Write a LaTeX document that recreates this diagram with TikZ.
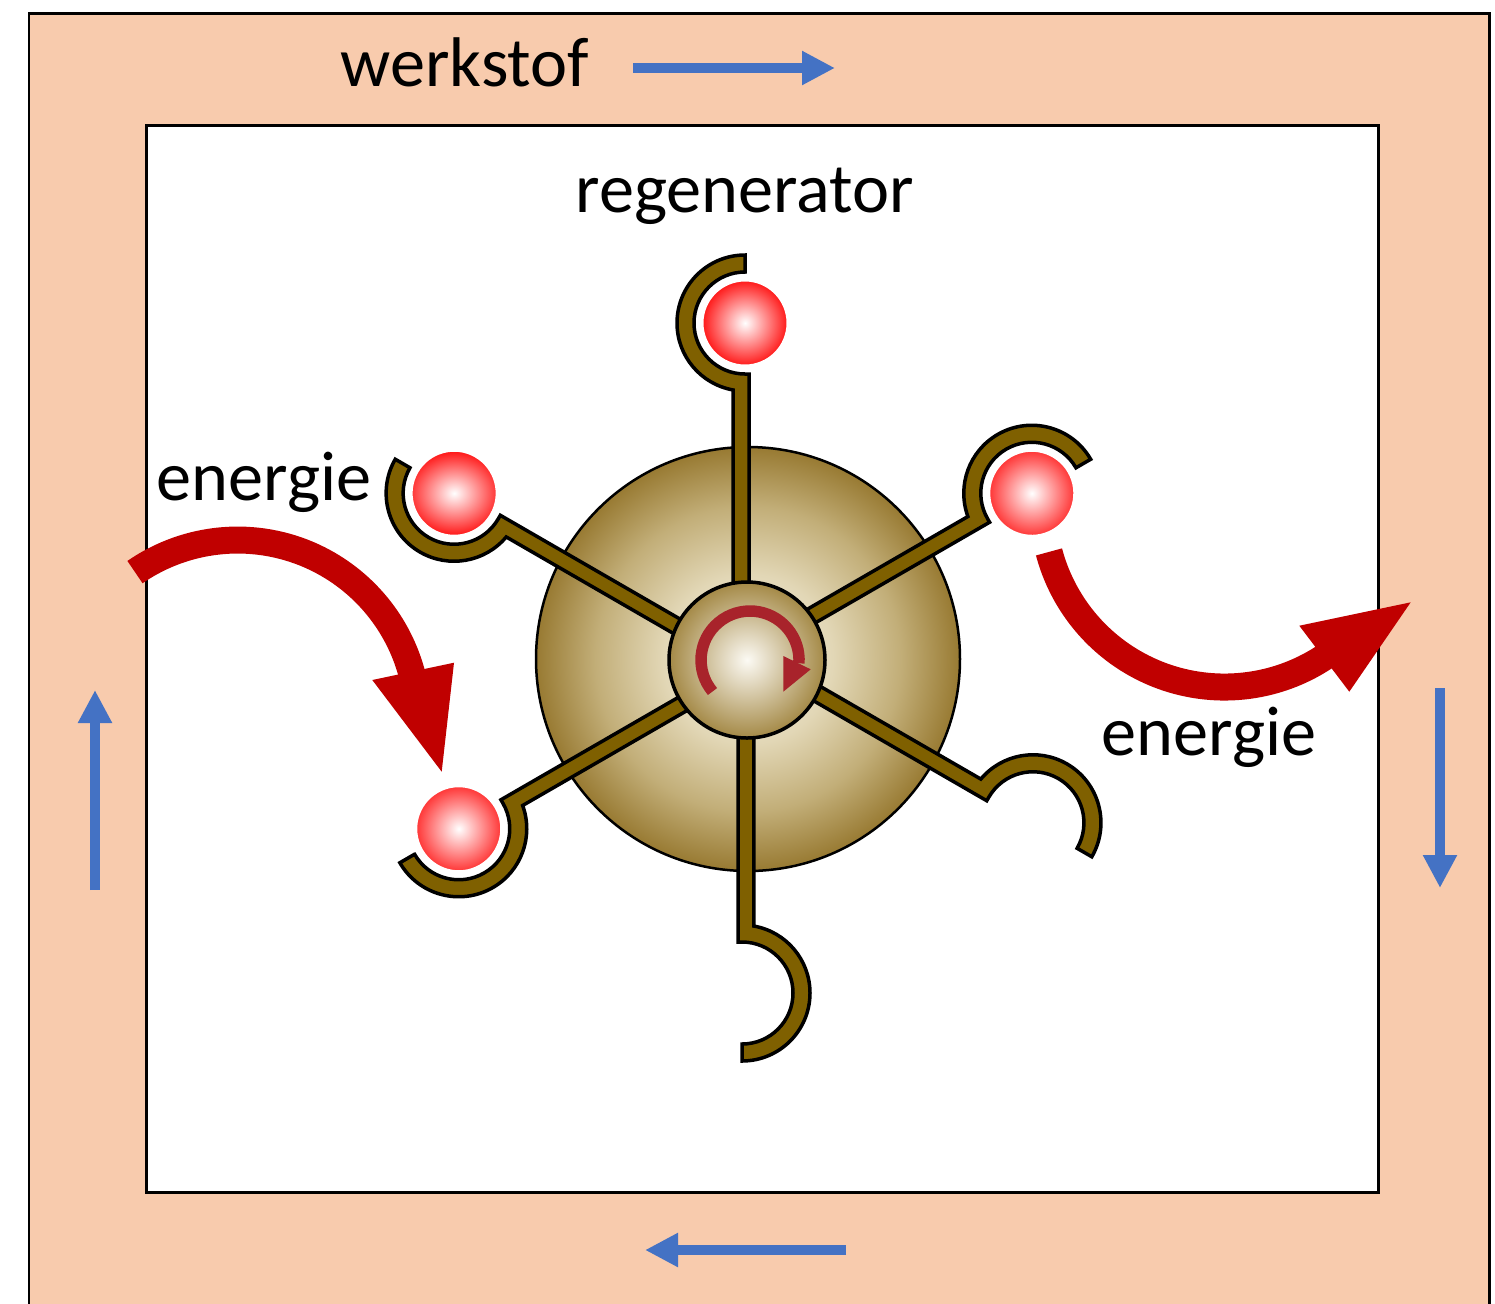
\documentclass[tikz,border=0pt]{standalone}
\usepackage{fontspec}
\setmainfont{Carlito}
\usetikzlibrary{arrows.meta}

\definecolor{peach}{RGB}{248,203,173}
\definecolor{flowblue}{RGB}{68,114,196}
\definecolor{heatred}{RGB}{192,0,0}
\definecolor{armgold}{RGB}{127,96,0}
\definecolor{spinred}{RGB}{168,35,43}
\definecolor{ballred}{RGB}{255,22,22}
\definecolor{discA}{RGB}{245,241,228}
\definecolor{discB}{RGB}{226,215,182}
\definecolor{discC}{RGB}{194,174,120}
\definecolor{discD}{RGB}{152,122,50}
\definecolor{hubA}{RGB}{252,250,244}
\definecolor{hubB}{RGB}{164,137,70}

\pgfdeclareradialshading{discshade}{\pgfpointorigin}{color(0bp)=(discA); color(10bp)=(discB); color(18bp)=(discC); color(25bp)=(discD); color(50bp)=(discD)}
\pgfdeclareradialshading{hubshade}{\pgfpointorigin}{color(0bp)=(hubA); color(25bp)=(hubB); color(50bp)=(hubB)}
\pgfdeclareradialshading{beadshade}{\pgfpointorigin}{color(0bp)=(white); color(25bp)=(ballred); color(50bp)=(ballred)}

\begin{document}
\begin{tikzpicture}[x=0.02cm, y=0.02cm,
  lbl/.style={font=\fontsize{40}{48}\selectfont, inner sep=0pt, anchor=base},
  flow/.style={draw=flowblue, line width=0.2cm, -{Triangle[width=0.64cm, length=0.66cm]}},
  heat/.style={draw=heatred, line width=0.54cm},
  heathead/.style={fill=heatred},
  armstyle/.style={fill=armgold, draw=black, line width=0.07cm, line join=miter},
  bead/.style={shading=beadshade, draw=white, line width=0.06cm}]

\useasboundingbox (0,0) rectangle (1495,-1303);
\clip (0,0) rectangle (1495,-1303);
\fill[white] (0,0) rectangle (1495,-1303);

% working-fluid channel and inner chamber
\draw[fill=peach, line width=0.06cm] (29,-13) rectangle (1489,-1340);
\draw[fill=white, line width=0.06cm] (146,-125) rectangle (1378,-1192);

% flow direction of the working fluid
\coordinate (topA) at (633,-68);   \coordinate (topB) at (835,-68);
\coordinate (rgtA) at (1440,-688); \coordinate (rgtB) at (1440,-888);
\coordinate (botA) at (846,-1250); \coordinate (botB) at (645,-1250);
\coordinate (lftA) at (95,-890);   \coordinate (lftB) at (95,-690);
\draw[flow] (topA) -- (topB);
\draw[flow] (rgtA) -- (rgtB);
\draw[flow] (botA) -- (botB);
\draw[flow] (lftA) -- (lftB);

% labels
\node[lbl] (werk) at (465,-86) {werkstof};
\node[lbl] (regen) at (745,-212) {regenerator};
\node[lbl] (eIn) at (264,-500) {energie};
\node[lbl] (eOut) at (1209,-755) {energie};

% rotor disc
\shadedraw[shading=discshade, line width=0.05cm] (748,-659) circle[radius=212];

% six arms with cups (angle / length / sideways offset / bead)
\foreach \rot/\len/\dx/\hasbead in {0/337/0/1, 60/337/0/1, 120/334/0/1,
                                    180/333/7/0, 240/329/0/0, 300/330/0/1}{
  \begin{scope}[shift={(747,-660)}, rotate=\rot, xshift=\dx*0.02cm]
    \path[armstyle] (-2,{\len+51}) -- (-2,{\len+68})
      arc[start angle=90, end angle=260, radius=68]
      -- (-13.8,0) -- (2,0) -- (2,{\len-51}) -- (-2,{\len-51})
      arc[start angle=270, end angle=90, radius=51] -- cycle;
    \ifnum\hasbead=1
      \shadedraw[bead] (-2,\len) circle[radius=43];
    \fi
  \end{scope}
}

% hub with rotation arrow
\shadedraw[shading=hubshade, line width=0.07cm] (747,-660) circle[radius=78];
\draw[spinred, line width=0.23cm] (712.5,-691.5) arc[start angle=220, end angle=-4, radius=49];
\fill[spinred] (783.3,-656) -- (810.7,-669.3) -- (783.3,-691.7) -- cycle;

% heat flowing in and out
\draw[heat] (135,-572.1) arc[start angle=124.7, end angle=14.5, radius=180.3];
\fill[heathead] (372.3,-680) -- (441.7,-771.7) -- (454,-662.7) -- cycle;
\draw[heat] (1049,-551.9) arc[start angle=194.8, end angle=304, radius=181.5];
\fill[heathead] (1299.3,-625.7) -- (1410.7,-602.3) -- (1349.3,-691.7) -- cycle;

\end{tikzpicture}
\end{document}
